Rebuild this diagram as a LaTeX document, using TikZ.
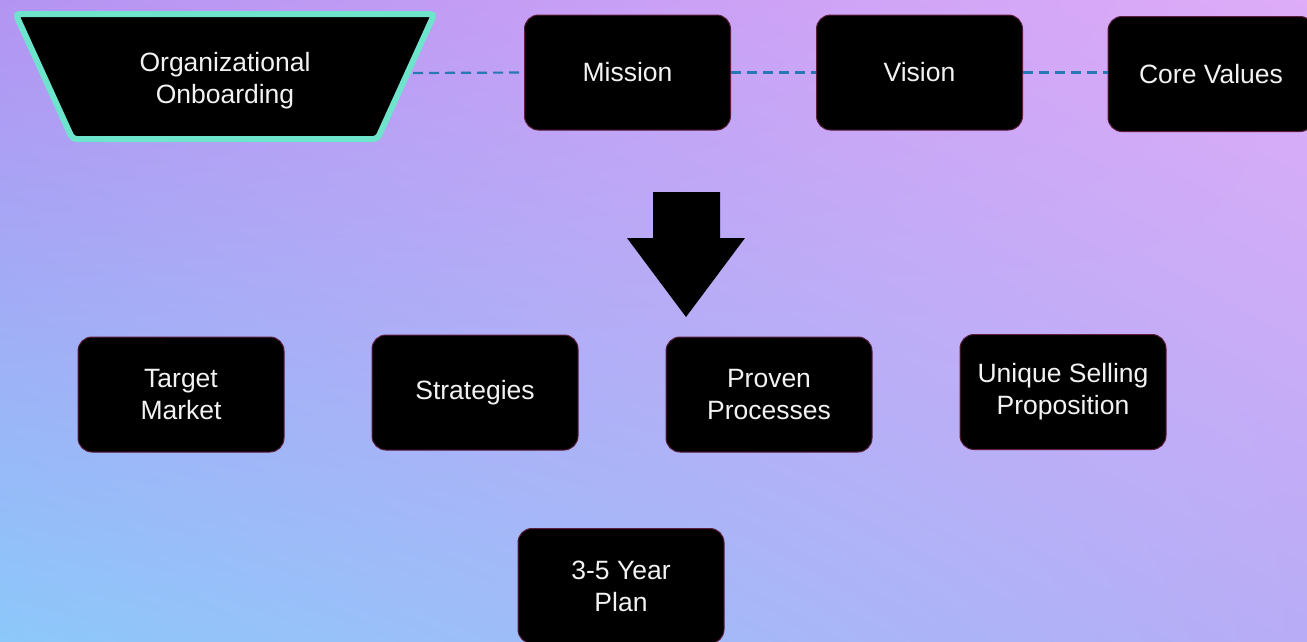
\documentclass[tikz,border=0pt]{standalone}
\usepackage{fontspec}
\setmainfont{Liberation Sans}
\usetikzlibrary{shapes.geometric,shadings}
\definecolor{bgTL}{RGB}{180,148,242}
\definecolor{bgTR}{RGB}{222,172,248}
\definecolor{bgBL}{RGB}{140,200,250}
\definecolor{bgBR}{RGB}{184,172,246}
\definecolor{teal}{RGB}{110,228,205}
\definecolor{edgec}{RGB}{90,30,60}
\definecolor{dashc}{RGB}{40,120,180}
\definecolor{txt}{RGB}{242,242,242}
\tikzset{
  box/.style={rectangle, rounded corners=14pt, fill=black, draw=edgec, line width=1pt,
    minimum width=206pt, minimum height=115pt, text=txt, align=center,
    font=\fontsize{26.5}{32}\selectfont},
  funnel/.style={trapezium, shape border rotate=180, trapezium stretches=true,
    trapezium left angle=62.4, trapezium right angle=62.4,
    minimum width=420pt, minimum height=125pt, fill=black, draw=teal, line width=6pt,
    rounded corners=4pt, align=center, font=\fontsize{26.5}{32}\selectfont},
  funneltext/.style={text=txt, align=center, font=\fontsize{26.5}{32}\selectfont, yshift=-4pt},
  link/.style={draw=dashc, line width=2.2pt, dash pattern=on 10pt off 6pt}
}
\begin{document}
\begin{tikzpicture}[x=1pt,y=-1pt]
\shade[upper left=bgTL, upper right=bgTR, lower left=bgBL, lower right=bgBR]
  (0,0) rectangle (1307,641);
\useasboundingbox (0,0) rectangle (1307,641);
\coordinate (l0) at (413,73);
\node[box] (mission) at (627.5,72.5) {Mission};
\node[box] (vision) at (919.5,72.5) {Vision};
\node[box] (core) at (1211,74) {Core Values};
\node[funnel, label={[funneltext]center:Organizational\\Onboarding}] (onb) at (225,76.5)
  {\phantom{Organizational}\\\phantom{Onboarding}};
\draw[link] (l0) -- (mission.west);
\draw[link] (mission.east) -- (vision.west);
\draw[link] (vision.east) -- (core.west |- vision.east);
% big arrow
\fill[black] (653,192) -- (720,192) -- (720,238) -- (745,238) -- (686,317)
  -- (627,238) -- (653,238) -- cycle;
\node[box] (target) at (181,394.5) {Target\\Market};
\node[box] (strat) at (475,392.5) {Strategies};
\node[box] (proven) at (769,394.5) {Proven\\Processes};
\node[box] (usp) at (1063,392) {Unique Selling\\Proposition};
\node[box] (plan) at (621,586) {3-5 Year\\Plan};
\end{tikzpicture}
\end{document}
